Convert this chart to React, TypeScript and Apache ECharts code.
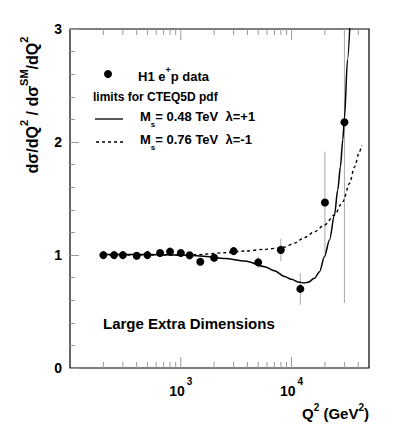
import React, { useEffect, useRef } from "react";
import * as echarts from "echarts";

// H1 e+p data
const q2Data = [200, 250, 300, 400, 500, 650, 800, 1000, 1200, 1500, 2000, 3000, 5000, 8000, 12000, 20000, 30000];
const ratioData = [0.999, 0.999, 0.999, 0.993, 0.999, 1.017, 1.03, 1.017, 0.997, 0.94, 0.975, 1.034, 0.935, 1.045, 0.70, 1.465, 2.175];
const ratioErr = [0.01, 0.01, 0.01, 0.01, 0.01, 0.012, 0.012, 0.015, 0.015, 0.02, 0.025, 0.03, 0.05, 0.1, 0.14, 0.45, 1.6];

// Ms = 0.48 TeV, lambda = +1
const solidQ2 = [200, 500, 1000, 1300, 1700, 2500, 3800, 5700, 7000, 8650, 9930, 11800, 13000, 14000, 16100, 17900, 19800, 22000, 24400, 26100, 27600, 29000, 30000, 32000, 34000];
const solidR = [1.004, 1.004, 1.0, 0.995, 0.987, 0.97, 0.947, 0.897, 0.86, 0.81, 0.785, 0.758, 0.753, 0.758, 0.794, 0.852, 0.985, 1.133, 1.354, 1.575, 1.78, 2.02, 2.21, 2.73, 3.14];

// Ms = 0.76 TeV, lambda = -1
const dashedQ2 = [200, 500, 1000, 1340, 2500, 3800, 5700, 7800, 8650, 10600, 13100, 16100, 19800, 24400, 29000, 33400, 37000, 41000, 43000];
const dashedR = [1.0, 1.0, 1.0, 1.002, 1.02, 1.035, 1.05, 1.062, 1.07, 1.105, 1.155, 1.206, 1.265, 1.354, 1.472, 1.634, 1.78, 1.914, 1.973];

const xMajorTicks = [1000, 10000];
const xMinorTicks = [200, 300, 400, 500, 600, 700, 800, 900, 2000, 3000, 4000, 5000, 6000, 7000, 8000, 9000, 20000, 30000, 40000];

const FONT = "'Liberation Sans', Arial, Helvetica, sans-serif";

export default function App() {
  const ref = useRef<HTMLDivElement>(null);
  useEffect(() => {
    document.body.style.margin = "0";
    const chart = echarts.init(ref.current!, null, { renderer: "svg" });
    const ticks = [
      ...xMajorTicks.map((v) => [v, 1]),
      ...xMinorTicks.map((v) => [v, 0]),
    ];
    const option: any = {
      animation: false,
      backgroundColor: "#fff",
      grid: { left: 70, right: 28, top: 29, bottom: 57, show: true, borderColor: "#000", borderWidth: 1.2, backgroundColor: "transparent" },
      xAxis: {
        type: "log",
        logBase: 10,
        min: 100,
        max: 50000,
        axisLine: { show: false },
        axisTick: { show: false },
        splitLine: { show: false },
        minorTick: { show: false },
        axisLabel: {
          margin: 8,
          showMaxLabel: false,
          formatter: (v: number) => {
            const l = Math.log10(v);
            const e = Math.round(l);
            if (Math.abs(l - e) > 0.001 || e < 3) return "";
            return "{b|10}{s|" + e + "}";
          },
          rich: {
            b: { fontFamily: FONT, fontWeight: "bold", fontSize: 14, color: "#000", lineHeight: 22, verticalAlign: "bottom" },
            s: { fontFamily: FONT, fontWeight: "bold", fontSize: 10, color: "#000", verticalAlign: "top", padding: [0, 0, 0, 2] },
          },
        },
      },
      yAxis: {
        type: "value",
        min: 0,
        max: 3,
        interval: 1,
        axisLine: { show: false },
        splitLine: { show: false },
        axisTick: { show: true, inside: true, length: 9, lineStyle: { color: "#999", width: 1 } },
        minorTick: { show: true, splitNumber: 5, length: 5, lineStyle: { color: "#999", width: 1 } },
        axisLabel: { margin: 8, fontFamily: FONT, fontWeight: "bold", fontSize: 14, color: "#000" },
      },
      series: [
        {
          type: "custom",
          name: "xticks",
          silent: true,
          clip: false,
          data: ticks,
          renderItem: (params: any, api: any) => {
            const v = api.value(0);
            const major = api.value(1) === 1;
            const L = major ? 11 : 6;
            const b = api.coord([v, 0]);
            const t = api.coord([v, 3]);
            const st = { stroke: "#999", lineWidth: 1 };
            return {
              type: "group",
              children: [
                { type: "line", shape: { x1: b[0], y1: b[1], x2: b[0], y2: b[1] - L }, style: st },
                { type: "line", shape: { x1: t[0], y1: t[1], x2: t[0], y2: t[1] + L }, style: st },
              ],
            };
          },
          z: 1,
        },
        {
          type: "custom",
          name: "errors",
          silent: true,
          clip: true,
          data: q2Data.map((q, i) => [q, ratioData[i], ratioErr[i]]),
          renderItem: (params: any, api: any) => {
            const x = api.value(0);
            const y = api.value(1);
            const e = api.value(2);
            const lo = api.coord([x, y - e]);
            const hi = api.coord([x, y + e]);
            return { type: "line", shape: { x1: lo[0], y1: lo[1], x2: hi[0], y2: hi[1] }, style: { stroke: "#aaa", lineWidth: 1 } };
          },
          z: 2,
        },
        {
          type: "line",
          name: "Ms=0.76 TeV lambda=-1",
          data: dashedQ2.map((q, i) => [q, dashedR[i]]),
          showSymbol: false,
          smooth: 0.3,
          smoothMonotone: "x",
          clip: true,
          lineStyle: { color: "#000", width: 1.4, type: [3, 3] },
          z: 3,
        },
        {
          type: "line",
          name: "Ms=0.48 TeV lambda=+1",
          data: solidQ2.map((q, i) => [q, solidR[i]]),
          showSymbol: false,
          smooth: 0.3,
          smoothMonotone: "x",
          clip: true,
          lineStyle: { color: "#000", width: 1.5 },
          z: 3,
        },
        {
          type: "scatter",
          name: "H1 e+p data",
          data: q2Data.map((q, i) => [q, ratioData[i]]),
          symbol: "circle",
          symbolSize: 8,
          itemStyle: { color: "#000", opacity: 1 },
          z: 4,
        },
      ],
      graphic: [
        {
          type: "text",
          x: 29,
          y: 105,
          rotation: Math.PI / 2,
          style: {
            text: "{a|dσ/dQ}{s|2}{a| / dσ}{s|SM}{a|/dQ}{s|2}",
            align: "center",
            verticalAlign: "middle",
            rich: {
              a: { fontFamily: FONT, fontWeight: "bold", fontSize: 16, fill: "#000", lineHeight: 22, verticalAlign: "bottom" },
              s: { fontFamily: FONT, fontWeight: "bold", fontSize: 11, fill: "#000", verticalAlign: "top" },
            },
          },
        },
        {
          type: "text",
          right: 28,
          top: 402,
          style: {
            text: "{a|Q}{s|2}{a| (GeV}{s|2}{a|)}",
            rich: {
              a: { fontFamily: FONT, fontWeight: "bold", fontSize: 15, fill: "#000", lineHeight: 19, verticalAlign: "bottom" },
              s: { fontFamily: FONT, fontWeight: "bold", fontSize: 10, fill: "#000", verticalAlign: "top" },
            },
          },
        },
        { type: "circle", shape: { cx: 108, cy: 74, r: 4 }, style: { fill: "#000" } },
        {
          type: "text",
          x: 138,
          y: 74,
          style: {
            text: "{a|H1 e}{s|+}{a|p data}",
            verticalAlign: "middle",
            rich: {
              a: { fontFamily: FONT, fontWeight: "bold", fontSize: 13, fill: "#000", lineHeight: 18, verticalAlign: "bottom" },
              s: { fontFamily: FONT, fontWeight: "bold", fontSize: 9, fill: "#000", verticalAlign: "top" },
            },
          },
        },
        {
          type: "text",
          x: 93,
          y: 97,
          style: { text: "limits for CTEQ5D pdf", fontFamily: FONT, fontWeight: "bold", fontSize: 12, fill: "#000", verticalAlign: "middle" },
        },
        { type: "line", shape: { x1: 95, y1: 119, x2: 123, y2: 119 }, style: { stroke: "#000", lineWidth: 1.3 } },
        {
          type: "text",
          x: 140,
          y: 119,
          style: {
            text: "{a|M}{u|s}{a|= 0.48 TeV  λ=+1}",
            verticalAlign: "middle",
            rich: {
              a: { fontFamily: FONT, fontWeight: "bold", fontSize: 13, fill: "#000", lineHeight: 18, verticalAlign: "top" },
              u: { fontFamily: FONT, fontWeight: "bold", fontSize: 8, fill: "#000", verticalAlign: "bottom" },
            },
          },
        },
        { type: "line", shape: { x1: 96, y1: 142, x2: 124, y2: 142 }, style: { stroke: "#000", lineWidth: 1.3, lineDash: [3, 3] } },
        {
          type: "text",
          x: 140,
          y: 142,
          style: {
            text: "{a|M}{u|s}{a|= 0.76 TeV  λ=-1}",
            verticalAlign: "middle",
            rich: {
              a: { fontFamily: FONT, fontWeight: "bold", fontSize: 13, fill: "#000", lineHeight: 18, verticalAlign: "top" },
              u: { fontFamily: FONT, fontWeight: "bold", fontSize: 8, fill: "#000", verticalAlign: "bottom" },
            },
          },
        },
        {
          type: "text",
          x: 103,
          y: 323,
          style: { text: "Large Extra Dimensions", fontFamily: FONT, fontWeight: "bold", fontSize: 15, fill: "#000", verticalAlign: "middle" },
        },
      ],
    };
    chart.setOption(option);
    return () => chart.dispose();
  }, []);
  return <div ref={ref} style={{ width: 397, height: 425 }} />;
}
